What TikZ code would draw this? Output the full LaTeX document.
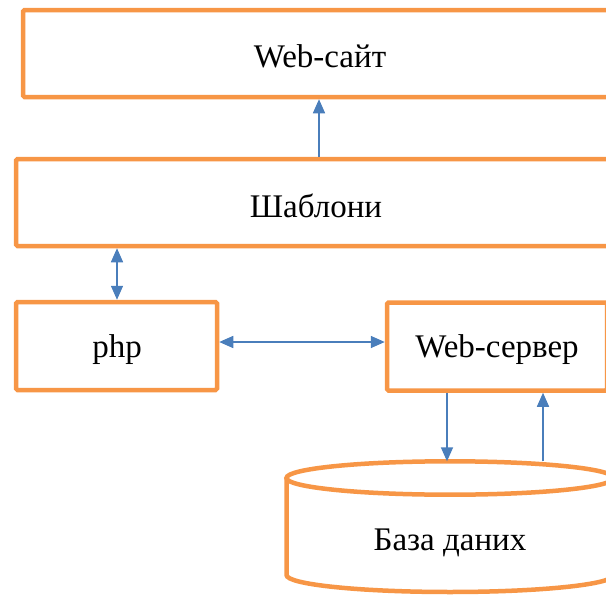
\documentclass[tikz,border=0pt]{standalone}
\usepackage{fontspec}
\setmainfont{Liberation Serif}
\usetikzlibrary{arrows.meta}
\definecolor{boxorange}{HTML}{F79646}
\definecolor{linkblue}{HTML}{4A7EBB}
\tikzset{
  blockbox/.style={draw=boxorange, line width=4.5pt, rounded corners=1.5pt,
    fill=white, inner sep=0pt, font=\fontsize{33}{38}\selectfont},
  boxtext/.style={font=\fontsize{33}{38}\selectfont},
  link/.style={draw=linkblue, line width=1.6pt,
    -{Triangle[length=14pt,width=12pt]}},
  dlink/.style={draw=linkblue, line width=1.6pt,
    {Triangle[length=14pt,width=12pt]}-{Triangle[length=14pt,width=12pt]}}
}
\begin{document}
\begin{tikzpicture}[x=1pt,y=-1pt]
\useasboundingbox (0,0) rectangle (606,597);
\clip (0,0) rectangle (606,597);

% layers
\node[blockbox, minimum width=594pt, minimum height=87pt] (site) at (320,53.5) {};
\node[blockbox, minimum width=598pt, minimum height=87pt] (tpl) at (315,202.5) {};
\node[blockbox, minimum width=201pt, minimum height=88pt] (php) at (116.5,346) {};
\node[blockbox, minimum width=220pt, minimum height=88pt] (srv) at (497,346.5) {};
\node[boxtext] (sitetxt) at (320,56) {Web-сайт};
\node[boxtext] (tpltxt) at (316,206) {Шаблони};
\node[boxtext] (phptxt) at (117,349.5) {php};
\node[boxtext] (srvtxt) at (497,349.5) {Web-сервер};

% database cylinder
\draw[boxorange, line width=4.5pt, fill=white]
  (286.5,478) -- (286.5,575) arc[start angle=180, end angle=360, x radius=163.5pt, y radius=17pt]
  -- (613.5,478);
\draw[boxorange, line width=4.5pt, fill=white]
  (450,478) ellipse[x radius=163.5pt, y radius=16.7pt];
\coordinate (dbtop) at (450,461.3);
\node[boxtext] (db) at (450,543) {База даних};

% connectors
\draw[link] (tpl.north -| 319,0) -- (site.south -| 319,0);
\draw[dlink] (tpl.south -| 117,0) -- (php.north -| 117,0);
\draw[dlink] (php.east |- 0,342) -- (srv.west |- 0,342);
\draw[link] (srv.south -| 447,0) -- (dbtop -| 447,0);
\draw[link] (dbtop -| 543,0) -- (srv.south -| 543,0);
\end{tikzpicture}
\end{document}
